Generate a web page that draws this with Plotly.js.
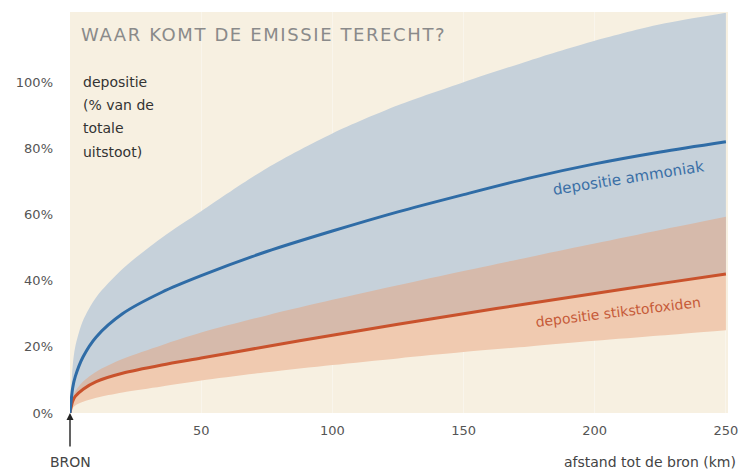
<!DOCTYPE html>
<html>
<head>
<meta charset="utf-8">
<script src="https://cdn.plot.ly/plotly-3.0.1.min.js"></script>
<style>html,body{margin:0;padding:0;background:#fff;}#chart{width:741px;height:470px;}.gtitle{letter-spacing:1.6px;}</style>
</head>
<body>
<div id="chart"></div>
<script>
// distance to source (km)
const distanceKm   = [0, 1, 2, 5, 10, 20, 35, 50, 75, 100, 125, 150, 175, 200, 225, 250];
// deposition ammonia (% of total emission)
const ammoniaMid   = [0, 7.5, 11, 17, 23, 30, 36.5, 41.5, 48.8, 55, 60.8, 66, 71, 75.3, 78.9, 82];
const ammoniaHigh  = [0, 14, 20, 28, 35, 43.5, 53, 61, 74, 84.5, 93, 100, 106.5, 112.5, 117.5, 121];
// deposition nitrogen oxides (% of total emission)
const noxMid       = [0, 3.5, 5, 7.2, 9.5, 12, 14.5, 16.6, 20.1, 23.5, 26.8, 30, 33.1, 36.1, 39.1, 42];
const noxHigh      = [0, 4.5, 6.5, 9.5, 12.5, 16.3, 20.5, 24.3, 29.5, 34.2, 38.6, 42.9, 47.1, 51.2, 55.3, 59.3];
const noxLow       = [0, 1.5, 2.3, 3.4, 4.6, 6.2, 8.0, 9.8, 12.3, 14.5, 16.5, 18.4, 20.1, 21.8, 23.4, 25];
// tick labels
const yTickVals    = [0, 20, 40, 60, 80, 100];
const yTickText    = ['0%', '20%', '40%', '60%', '80%', '100%'];
const xTickVals    = [50, 100, 150, 200, 250];
const xTickText    = ['50', '100', '150', '200', '250'];

const FONT = '"DejaVu Sans", "Open Sans", sans-serif';
const sp = {shape: 'spline', smoothing: 0.8};
const base = {x: distanceKm, mode: 'lines', hoverinfo: 'skip', showlegend: false};
const hidden = Object.assign({width: 0, color: 'rgba(0,0,0,0)'}, sp);

const traces = [
  Object.assign({}, base, {y: noxMid, line: hidden}),
  Object.assign({}, base, {y: ammoniaHigh, fill: 'tonexty', fillcolor: '#c6d1da', line: hidden}),
  Object.assign({}, base, {y: noxMid, line: hidden}),
  Object.assign({}, base, {y: noxHigh, fill: 'tonexty', fillcolor: '#d6baab', line: hidden}),
  Object.assign({}, base, {y: noxLow, line: hidden}),
  Object.assign({}, base, {y: noxMid, fill: 'tonexty', fillcolor: '#f0cab0', line: Object.assign({width: 3, color: '#c9522c'}, sp)}),
  Object.assign({}, base, {y: ammoniaMid, line: Object.assign({width: 3, color: '#2f6ca6'}, sp)})
];

const layout = {
  width: 741, height: 470,
  margin: {l: 70, r: 13, t: 12, b: 57},
  paper_bgcolor: '#ffffff',
  plot_bgcolor: '#f7f0e1',
  font: {family: FONT, color: '#555'},
  title: {
    text: 'WAAR KOMT DE EMISSIE TERECHT?',
    font: {family: FONT, size: 18, color: '#8a8a8a'},
    x: 81 / 741, xref: 'container', xanchor: 'left',
    y: 1 - 35 / 470, yref: 'container', yanchor: 'middle'
  },
  xaxis: {
    range: [0, 250.8], tickvals: xTickVals, ticktext: xTickText,
    showgrid: true, gridcolor: '#f9f5ec', gridwidth: 1, zeroline: false,
    showline: false, ticks: '', ticklabelstandoff: 8,
    tickfont: {family: FONT, size: 13, color: '#555'}, fixedrange: true
  },
  yaxis: {
    range: [0, 121.2], tickvals: yTickVals, ticktext: yTickText,
    showgrid: false, zeroline: false, showline: false, ticks: '',
    ticklabelstandoff: 16,
    tickfont: {family: FONT, size: 13, color: '#555'}, fixedrange: true
  },
  annotations: [
    {xref: 'paper', yref: 'paper', x: 1, y: 0, xanchor: 'right', yanchor: 'middle', yshift: -49, xshift: 10,
     text: 'afstand tot de bron (km)', showarrow: false, font: {family: FONT, size: 14, color: '#444'}},
    {x: 0, y: 0, xref: 'x', yref: 'y', text: 'BRON', showarrow: true, ax: 0, ay: 49,
     arrowhead: 2, arrowsize: 1, arrowwidth: 1.4, arrowcolor: '#222', startstandoff: 6,
     font: {family: FONT, size: 14, color: '#444'}},
    {xref: 'paper', yref: 'paper', x: 11 / 658, y: (413 - 82) / 401, xanchor: 'left', yanchor: 'middle', showarrow: false,
     text: 'depositie', font: {family: FONT, size: 14, color: '#333'}},
    {xref: 'paper', yref: 'paper', x: 11 / 658, y: (413 - 105) / 401, xanchor: 'left', yanchor: 'middle', showarrow: false,
     text: '(% van de', font: {family: FONT, size: 14, color: '#333'}},
    {xref: 'paper', yref: 'paper', x: 11 / 658, y: (413 - 128.5) / 401, xanchor: 'left', yanchor: 'middle', showarrow: false,
     text: 'totale', font: {family: FONT, size: 14, color: '#333'}},
    {xref: 'paper', yref: 'paper', x: 11 / 658, y: (413 - 152) / 401, xanchor: 'left', yanchor: 'middle', showarrow: false,
     text: 'uitstoot)', font: {family: FONT, size: 14, color: '#333'}},
    {x: 213, y: 71, xref: 'x', yref: 'y', text: 'depositie ammoniak', showarrow: false, textangle: -9,
     font: {family: FONT, size: 15, color: '#3a6fa6'}},
    {x: 209, y: 30.5, xref: 'x', yref: 'y', text: 'depositie stikstofoxiden', showarrow: false, textangle: -7,
     font: {family: FONT, size: 14, color: '#c65a38'}}
  ]
};

Plotly.newPlot('chart', traces, layout, {displayModeBar: false, staticPlot: true});
</script>
</body>
</html>
